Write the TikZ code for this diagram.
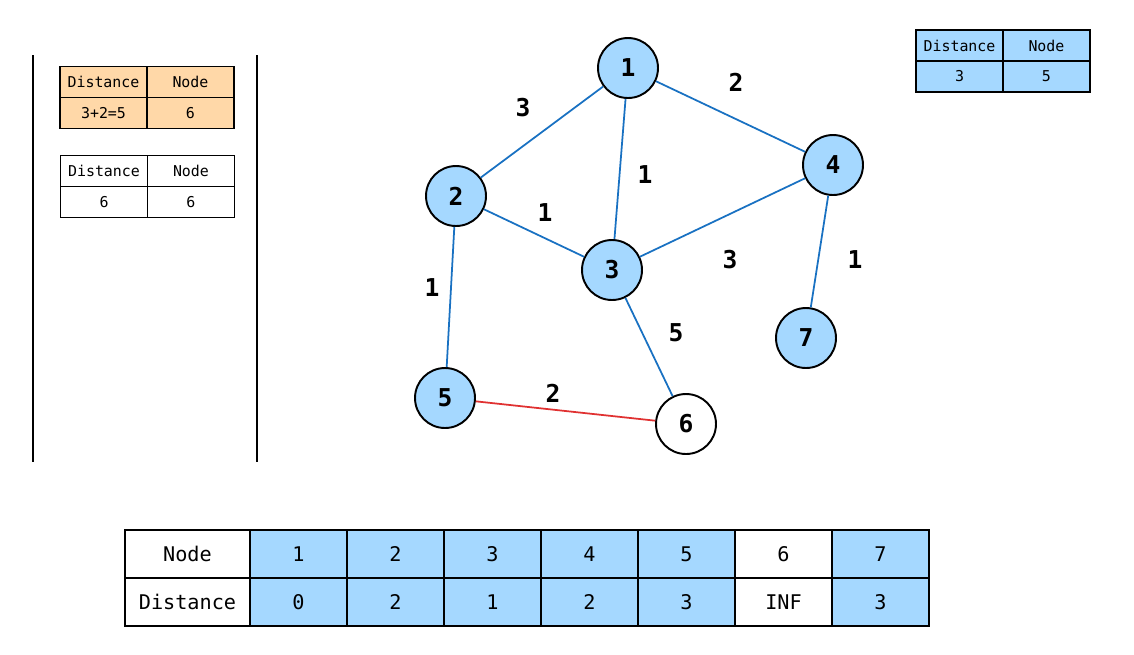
\documentclass[tikz,border=0pt]{standalone}
\usepackage{fontspec}
\setmonofont{DejaVu Sans Mono}
\usepackage{tikz}
\usetikzlibrary{positioning}
\definecolor{sketchblue}{HTML}{A5D8FF}
\definecolor{sketchorange}{HTML}{FFD8A8}
\definecolor{edgeblue}{HTML}{1971C2}
\definecolor{edgered}{HTML}{E03131}

\tikzset{
  vertex/.style={circle, draw=black, line width=1.1pt, minimum size=1.2cm, inner sep=0pt,
    font=\ttfamily\bfseries\fontsize{14}{14}\selectfont},
  edge/.style={edgeblue, line width=1pt},
  weight/.style={font=\ttfamily\bfseries\fontsize{14}{14}\selectfont},
  smallcell/.style={draw=black, line width=1.1pt, minimum width=1.74cm, minimum height=0.62cm,
    inner sep=0pt, outer sep=0pt, font=\ttfamily\fontsize{8.5}{10}\selectfont},
  bigcell/.style={draw=black, line width=1.1pt, minimum width=1.94cm, minimum height=0.96cm,
    inner sep=0pt, outer sep=0pt, font=\ttfamily\fontsize{11.5}{12}\selectfont},
}

\begin{document}
\begin{tikzpicture}[x=0.02cm, y=-0.02cm]
\useasboundingbox (0,0) rectangle (1134,654);

% Side panel
\draw[line width=1.1pt] (33,55) -- (33,462);
\draw[line width=1.1pt] (257,55) -- (257,462);

% Current entry
\node[smallcell, fill=sketchorange] (curdist) at (103.5,82) {Distance};
\node[smallcell, fill=sketchorange, right=0pt of curdist] (curnode) {Node};
\node[smallcell, fill=sketchorange, below=0pt of curdist] (curdistval) {3+2=5};
\node[smallcell, fill=sketchorange, below=0pt of curnode] (curnodeval) {6};

% Queue entry
\node[smallcell, fill=white] (qdist) at (104,171) {Distance};
\node[smallcell, fill=white, right=0pt of qdist] (qnode) {Node};
\node[smallcell, fill=white, below=0pt of qdist] (qdistval) {6};
\node[smallcell, fill=white, below=0pt of qnode] (qnodeval) {6};

% Popped entry
\node[smallcell, fill=sketchblue] (pdist) at (959.5,45.5) {Distance};
\node[smallcell, fill=sketchblue, right=0pt of pdist] (pnode) {Node};
\node[smallcell, fill=sketchblue, below=0pt of pdist] (pdistval) {3};
\node[smallcell, fill=sketchblue, below=0pt of pnode] (pnodeval) {5};

% Graph
\node[vertex, fill=sketchblue] (v1) at (628,68) {1};
\node[vertex, fill=sketchblue] (v2) at (456,196) {2};
\node[vertex, fill=sketchblue] (v3) at (612,270) {3};
\node[vertex, fill=sketchblue] (v4) at (833,165) {4};
\node[vertex, fill=sketchblue] (v5) at (445,398) {5};
\node[vertex, fill=white] (v6) at (686,424) {6};
\node[vertex, fill=sketchblue] (v7) at (806,338) {7};

\draw[edge] (v1) -- (v2);
\draw[edge] (v1) -- (v4);
\draw[edge] (v1) -- (v3);
\draw[edge] (v2) -- (v3);
\draw[edge] (v2) -- (v5);
\draw[edge] (v3) -- (v4);
\draw[edge] (v3) -- (v6);
\draw[edge] (v4) -- (v7);
\draw[edge, edgered] (v5) -- (v6);

% Weights
\node[weight] (w12) at (523,108) {3};
\node[weight] (w14) at (736,82) {2};
\node[weight] (w13) at (645,175) {1};
\node[weight] (w23) at (545,213) {1};
\node[weight] (w34) at (730,260) {3};
\node[weight] (w47) at (855,260) {1};
\node[weight] (w25) at (432,288) {1};
\node[weight] (w36) at (676,333) {5};
\node[weight] (w56) at (553,393) {2};

% Distance table
\node[bigcell, minimum width=2.5cm] (nodehead) at (187.5,554) {Node};
\node[bigcell, minimum width=2.5cm, below=0pt of nodehead] (disthead) {Distance};
\foreach \i/\d/\c in {1/0/sketchblue, 2/2/sketchblue, 3/1/sketchblue, 4/2/sketchblue,
                      5/3/sketchblue, 6/INF/white, 7/3/sketchblue} {
  \node[bigcell, fill=\c] (n\i) at (201.5+97*\i,554) {\i};
  \node[bigcell, fill=\c, below=0pt of n\i] (d\i) {\d};
}

\end{tikzpicture}
\end{document}
